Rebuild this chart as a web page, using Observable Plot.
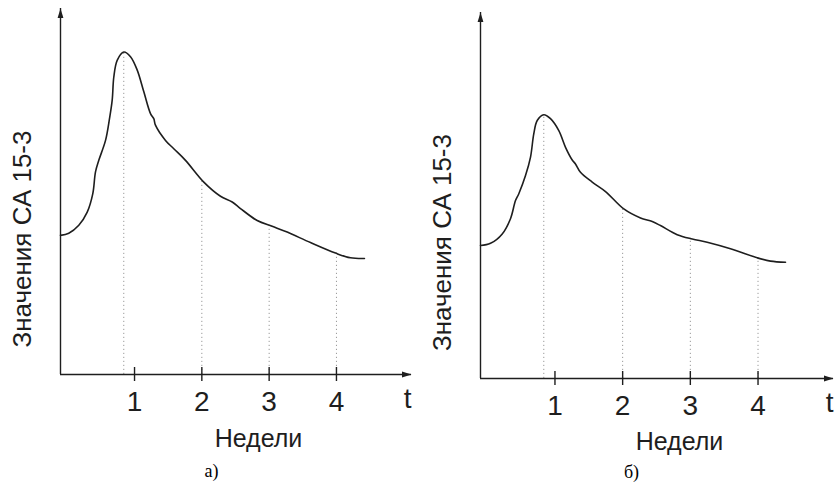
<!DOCTYPE html>
<html><head><meta charset="utf-8">
<script src="https://cdn.jsdelivr.net/npm/d3@7"></script>
<script src="https://cdn.jsdelivr.net/npm/@observablehq/plot@0.6"></script>
<style>
body{margin:0;background:#fff;}
#wrap{display:flex;width:836px;height:487px;overflow:hidden;}
</style></head><body><div id="wrap"></div>
<script>
// ---- data ----
const tickValues = [1, 2, 3, 4];
const tickLabels = ["1", "2", "3", "4"];
const xLabel = "Недели";
const yLabel = "Значения СА 15-3";
const axisEndLabel = "t";
const captionA = "а)";
const captionB = "б)";

const weeksA  = [-0.1, 0.023, 0.172, 0.297, 0.380, 0.420, 0.469, 0.569, 0.628, 0.668, 0.692, 0.742, 0.840, 0.940, 1.040, 1.138, 1.237, 1.286, 1.311, 1.460, 1.583, 1.757, 2.029, 2.277, 2.451, 2.574, 2.822, 3.045, 3.268, 3.614, 3.986, 4.208, 4.416];
const valuesA = [38.4, 39.0, 41.2, 44.8, 49.9, 55.9, 59.1, 64.6, 70.6, 75.7, 82.1, 86.7, 89.0, 87.7, 84.0, 78.0, 72.0, 70.6, 68.8, 64.6, 62.3, 59.1, 53.1, 49.2, 47.6, 45.8, 42.5, 40.9, 39.3, 36.4, 33.5, 32.2, 32.0];

const weeksB  = [-0.1, 0.048, 0.221, 0.343, 0.417, 0.466, 0.565, 0.639, 0.687, 0.738, 0.835, 0.934, 1.057, 1.156, 1.255, 1.303, 1.377, 1.550, 1.747, 2.017, 2.264, 2.437, 2.559, 2.806, 3.028, 3.249, 3.593, 3.988, 4.184, 4.406];
const valuesB = [36.7, 37.3, 39.9, 44.1, 49.1, 51.0, 56.0, 61.1, 67.5, 71.2, 72.8, 71.7, 68.4, 63.8, 60.3, 59.2, 56.9, 54.2, 51.6, 46.8, 44.3, 43.3, 42.2, 39.7, 38.5, 37.6, 35.8, 33.3, 32.4, 32.1];

const dropWeeksA  = [0.84, 2, 3, 4];
const dropValuesA = [89.0, 53.7, 41.2, 33.5];
const dropWeeksB  = [0.835, 2, 3, 4];
const dropValuesB = [72.8, 47.1, 38.7, 33.3];

const xDomain = [-0.1, 5.115];
const yDomain = [0, 101];

// ---- drawing ----
const SANS = "'Liberation Sans', Arial, Helvetica, sans-serif";
const SERIF = "'Liberation Serif', 'Times New Roman', serif";
const INK = "#1e1e1e";

// narrow filled arrowhead, tip at the origin, pointing up
const arrowHead = {
  draw(ctx) {
    ctx.moveTo(0, 0);
    ctx.lineTo(2.9, 9.5);
    ctx.lineTo(-2.9, 9.5);
    ctx.closePath();
  }
};

function panel(o) {
  const curve = o.weeks.map((w, i) => ({w, v: o.values[i]}));
  const drops = o.dropW.map((w, i) => ({w, v: o.dropV[i]}));
  const ticks = tickValues.map((w, i) => ({w, label: tickLabels[i]}));
  return Plot.plot({
    width: o.width,
    height: 487,
    marginLeft: 60,
    marginRight: o.marginRight,
    marginTop: o.marginTop,
    marginBottom: o.marginBottom,
    x: {domain: xDomain, axis: null},
    y: {domain: yDomain, axis: null},
    style: {fontFamily: SANS, background: "#fff", color: INK, overflow: "visible"},
    marks: [
      // dotted drop lines
      Plot.ruleX(drops, {x: "w", y1: 0, y2: "v", stroke: "#9a9a9a", strokeWidth: 1, strokeDasharray: "1.2,2.8"}),
      // axes
      Plot.ruleY([0], {stroke: INK, strokeWidth: 1.4}),
      Plot.ruleX([xDomain[0]], {stroke: INK, strokeWidth: 1.4}),
      Plot.dot([{x: xDomain[0], y: yDomain[1]}], {x: "x", y: "y", symbol: arrowHead, fill: INK, stroke: "none"}),
      Plot.dot([{x: xDomain[1], y: 0}], {x: "x", y: "y", symbol: arrowHead, rotate: 90, fill: INK, stroke: "none"}),
      // tick marks crossing the axis
      Plot.ruleX(ticks, {x: "w", y1: 0, y2: 0, insetTop: 7, insetBottom: 7, stroke: INK, strokeWidth: 1.4}),
      // tick labels
      Plot.text(ticks, {x: "w", frameAnchor: "bottom", lineAnchor: "middle", text: "label", dy: o.tickDy, fontSize: 28, fill: INK}),
      Plot.text([axisEndLabel], {frameAnchor: "bottom-right", textAnchor: "end", lineAnchor: "middle", dy: o.tickDy - 3, fontSize: 28, fill: INK}),
      // curve
      Plot.line(curve, {x: "w", y: "v", curve: "catmull-rom", stroke: INK, strokeWidth: 1.6}),
      // labels
      Plot.text([xLabel], {frameAnchor: "bottom", lineAnchor: "middle", dx: 22.5, dy: o.xLabelDy, fontSize: 25, fill: INK}),
      Plot.text([yLabel], {frameAnchor: "left", textAnchor: "middle", lineAnchor: "middle", rotate: -90, dx: -38, dy: o.yLabelDy, fontSize: 26, fill: INK}),
      Plot.text([o.caption], {frameAnchor: "bottom", lineAnchor: "middle", dx: o.captionDx, dy: o.captionDy, fontSize: 18, fontFamily: SERIF, fill: "#000"})
    ]
  });
}

const wrap = document.getElementById("wrap");
wrap.append(panel({
  weeks: weeksA, values: valuesA, dropW: dropWeeksA, dropV: dropValuesA, caption: captionA,
  width: 420, marginRight: 9, marginTop: 8, marginBottom: 113,
  tickDy: 28, xLabelDy: 64, yLabelDy: 47.5, captionDx: -24.5, captionDy: 97
}));
wrap.append(panel({
  weeks: weeksB, values: valuesB, dropW: dropWeeksB, dropV: dropValuesB, caption: captionB,
  width: 416, marginRight: 3, marginTop: 12, marginBottom: 109,
  tickDy: 28, xLabelDy: 63, yLabelDy: 47, captionDx: -25.5, captionDy: 94
}));
</script></body></html>
